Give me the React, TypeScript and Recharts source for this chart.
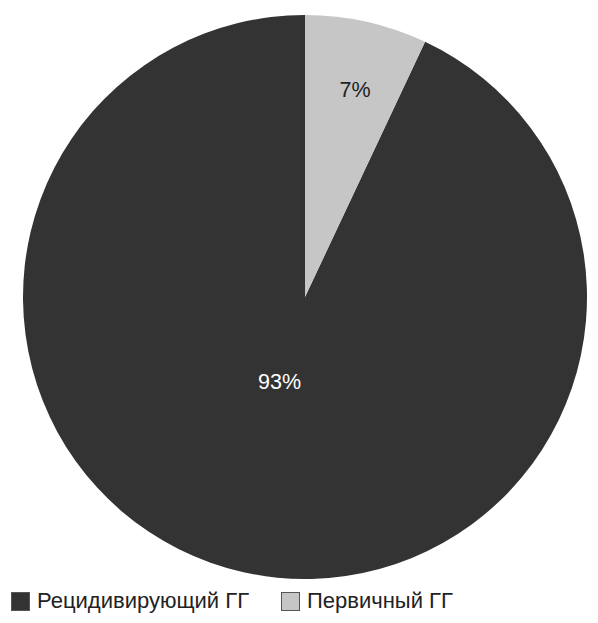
import React from 'react';
import { PieChart, Pie, Cell, Legend } from 'recharts';

// Доли пациентов по типу ГГ
const categories = ['Рецидивирующий ГГ', 'Первичный ГГ'];
const shares = [93, 7];
const colors = ['#333333', '#c6c6c6'];
const labelColors = ['#ffffff', '#222222'];

// label placement: distance from centre (fraction of radius) and a small angular nudge
const LABEL_RADIUS = [0.315, 0.755];
const LABEL_NUDGE = [-4, -1];

const data = categories.map((name, i) => ({ name, value: shares[i] }));

const RADIAN = Math.PI / 180;
const FONT = '"Liberation Sans", Arial, sans-serif';

const renderLabel = (props: any) => {
  const { cx, cy, outerRadius, midAngle, index, value } = props;
  const r = outerRadius * LABEL_RADIUS[index];
  const a = (midAngle + LABEL_NUDGE[index]) * RADIAN;
  const x = cx + r * Math.cos(-a);
  const y = cy + r * Math.sin(-a);
  return (
    <text
      x={x}
      y={y}
      fill={labelColors[index]}
      textAnchor="middle"
      dominantBaseline="central"
      fontSize={21.5}
      fontFamily={FONT}
    >
      {`${value}%`}
    </text>
  );
};

const renderLegend = () => (
  <div style={{ position: 'relative', height: 30, fontFamily: FONT, fontSize: 22, color: '#222' }}>
    {categories.map((name, i) => (
      <div
        key={name}
        style={{
          position: 'absolute',
          left: i === 0 ? 11 : 281,
          top: 0,
          display: 'flex',
          alignItems: 'center',
          whiteSpace: 'nowrap',
        }}
      >
        <span
          style={{
            display: 'inline-block',
            width: 17,
            height: 17,
            background: colors[i],
            border: '1px solid #555',
            marginRight: 7,
          }}
        />
        <span>{name}</span>
      </div>
    ))}
  </div>
);

export default function App() {
  // small slice begins at 12 o'clock and runs clockwise
  const start = 90 - 360 * (shares[1] / 100);
  return (
    <div style={{ margin: -8, width: 598, height: 623, background: '#fff', position: 'relative' }}>
      <PieChart width={598} height={623} margin={{ top: 0, right: 0, bottom: 0, left: 0 }}>
        <Pie
          data={data}
          dataKey="value"
          nameKey="name"
          cx={305}
          cy={297}
          outerRadius={282}
          startAngle={start}
          endAngle={start - 360}
          stroke="none"
          label={renderLabel}
          labelLine={false}
          isAnimationActive={false}
        >
          {data.map((d, i) => (
            <Cell key={d.name} fill={colors[i]} />
          ))}
        </Pie>
        <Legend
          content={renderLegend}
          verticalAlign="bottom"
          wrapperStyle={{ position: 'absolute', left: 0, top: 588, width: 598 }}
        />
      </PieChart>
    </div>
  );
}
